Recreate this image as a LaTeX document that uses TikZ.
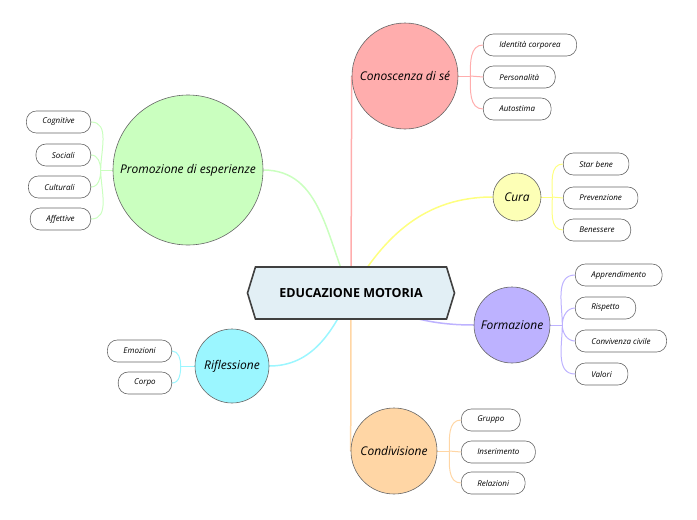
\documentclass[tikz,border=0pt]{standalone}
\usepackage{fontspec}
\setmainfont{Open Sans}
\usetikzlibrary{shapes.symbols,backgrounds}
\definecolor{conscol}{HTML}{FFADAD}
\definecolor{curacol}{HTML}{FDFFB6}
\definecolor{formcol}{HTML}{BDB2FF}
\definecolor{condcol}{HTML}{FFD6A5}
\definecolor{riflcol}{HTML}{9BF6FF}
\definecolor{promcol}{HTML}{CAFFBF}
\definecolor{educol}{HTML}{E2EFF5}
\begin{document}
\begin{tikzpicture}[x=1pt,y=-1pt,
    topic/.style={circle,draw=black!60,line width=0.6pt,inner sep=0pt,
      font=\itshape\fontsize{12}{14}\selectfont},
    leaf/.style={draw=black!60,line width=0.6pt,rounded corners=10pt,fill=white,
      minimum height=22pt,inner xsep=16pt,inner ysep=0pt,
      font=\itshape\fontsize{8}{9}\selectfont},
    branch/.style={line width=1.5pt},
    twig/.style={line width=1pt}]
  \useasboundingbox (0,0) rectangle (697,520);
  % centre
  \node[signal,signal to=west and east,signal pointer angle=146,
    draw=black!75,line width=1.6pt,fill=educol,minimum width=207pt,minimum height=52pt,
    font=\bfseries\fontsize{12.5}{14}\selectfont] (edu) at (351,293) {EDUCAZIONE MOTORIA};
  % topics
  \node[topic,fill=conscol,minimum size=106pt] (cons) at (405,76) {Conoscenza di sé};
  \node[topic,fill=curacol,minimum size=48pt] (cura) at (517,197) {Cura};
  \node[topic,fill=formcol,minimum size=76pt] (form) at (512,325) {Formazione};
  \node[topic,fill=condcol,minimum size=86pt] (cond) at (394,451) {Condivisione};
  \node[topic,fill=riflcol,minimum size=74pt] (rifl) at (232,366) {Riflessione};
  \node[topic,fill=promcol,minimum size=150pt] (prom) at (188,170) {Promozione di esperienze};
  % leaves
  \node[leaf,anchor=west] (cons1) at (483,45) {Identità corporea};
  \node[leaf,anchor=west] (cons2) at (483,77) {Personalità};
  \node[leaf,anchor=west] (cons3) at (483,109) {Autostima};
  \node[leaf,anchor=west] (cura1) at (563,164) {Star bene};
  \node[leaf,anchor=west] (cura2) at (563,198) {Prevenzione};
  \node[leaf,anchor=west] (cura3) at (563,230) {Benessere};
  \node[leaf,anchor=west] (form1) at (575,275) {Apprendimento};
  \node[leaf,anchor=west] (form2) at (575,308) {Rispetto};
  \node[leaf,anchor=west] (form3) at (575,341) {Convivenza civile};
  \node[leaf,anchor=west] (form4) at (575,374) {Valori};
  \node[leaf,anchor=west] (cond1) at (461,420) {Gruppo};
  \node[leaf,anchor=west] (cond2) at (461,452) {Inserimento};
  \node[leaf,anchor=west] (cond3) at (461,483) {Relazioni};
  \node[leaf,anchor=east] (prom1) at (91,122) {Cognitive};
  \node[leaf,anchor=east] (prom2) at (91,155) {Sociali};
  \node[leaf,anchor=east] (prom3) at (91,187) {Culturali};
  \node[leaf,anchor=east] (prom4) at (91,219) {Affettive};
  \node[leaf,anchor=east] (rifl1) at (172,351) {Emozioni};
  \node[leaf,anchor=east] (rifl2) at (172,383) {Corpo};
  \begin{scope}[on background layer]
    % branches
    \draw[branch,conscol] (edu.center) -- (cons.west);
    \draw[branch,curacol!70!yellow] (edu.center) to[out=60,in=180] (cura.west);
    \draw[branch,formcol] (edu.center) to[out=-25,in=180] (form.west);
    \draw[branch,condcol] (edu.center) -- (cond.west);
    \draw[branch,riflcol] (edu.center) to[out=-115,in=0] (rifl.east);
    \draw[branch,promcol] (prom.east) to[out=0,in=115] (edu.center);
    % twigs
    \draw[twig,conscol] (cons.east) -- ++(12,0) coordinate (consj);
    \draw[twig,curacol!70!yellow] (cura.east) -- ++(11,0) coordinate (curaj);
    \draw[twig,formcol] (form.east) -- ++(12,0) coordinate (formj);
    \draw[twig,condcol] (cond.east) -- ++(12,0) coordinate (condj);
    \draw[twig,riflcol] (rifl.west) -- ++(-14,0) coordinate (riflj);
    \draw[twig,promcol] (prom.west) -- ++(-12,0) coordinate (promj);
    \draw[twig,conscol] (consj) to[out=90,in=180] (cons1.west)
      (consj) -- (cons2.west) (consj) to[out=-90,in=180] (cons3.west);
    \draw[twig,curacol!70!yellow] (curaj) to[out=90,in=180] (cura1.west)
      (curaj) -- (cura2.west) (curaj) to[out=-90,in=180] (cura3.west);
    \draw[twig,formcol] (formj) to[out=90,in=180] (form1.west)
      (formj) to[out=90,in=180] (form2.west)
      (formj) to[out=-90,in=180] (form3.west)
      (formj) to[out=-90,in=180] (form4.west);
    \draw[twig,condcol] (condj) to[out=90,in=180] (cond1.west)
      (condj) -- (cond2.west) (condj) to[out=-90,in=180] (cond3.west);
    \draw[twig,promcol] (promj) to[out=90,in=0] (prom1.east)
      (promj) to[out=90,in=0] (prom2.east)
      (promj) to[out=-90,in=0] (prom3.east)
      (promj) to[out=-90,in=0] (prom4.east);
    \draw[twig,riflcol] (riflj) to[out=90,in=0] (rifl1.east)
      (riflj) to[out=-90,in=0] (rifl2.east);
  \end{scope}
\end{tikzpicture}
\end{document}
